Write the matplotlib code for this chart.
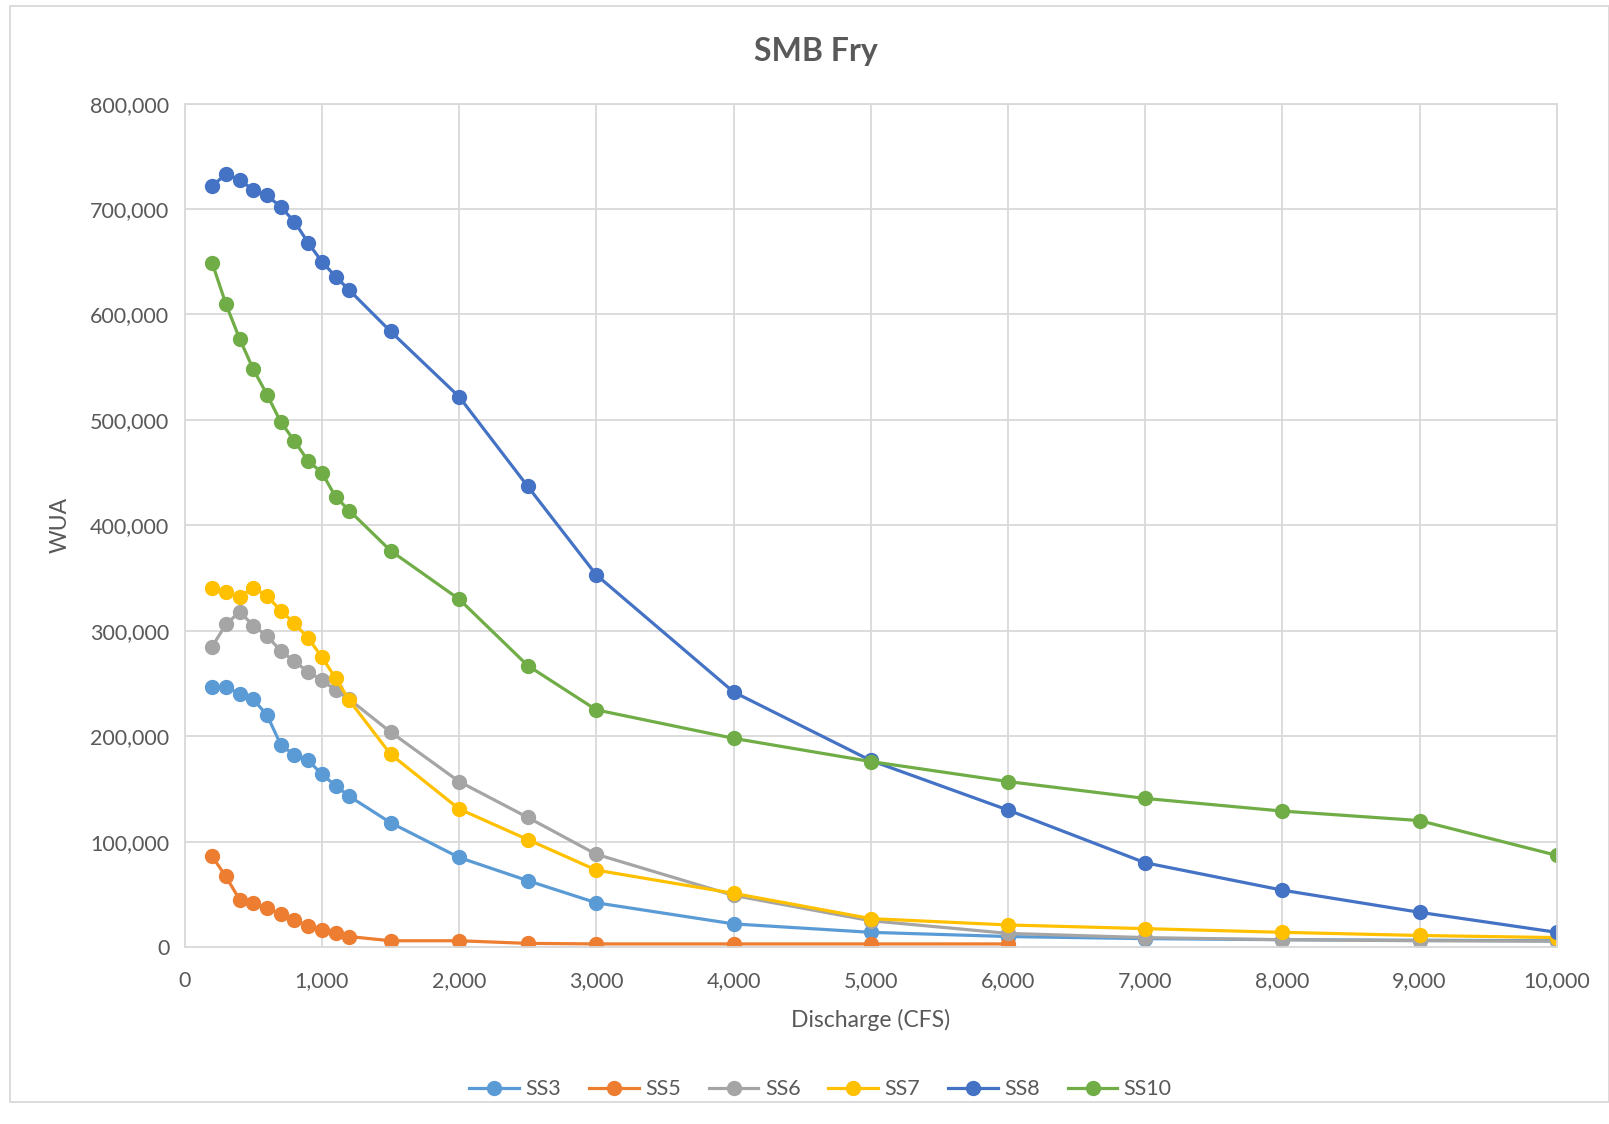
import matplotlib.pyplot as plt
from matplotlib.patches import Rectangle
from matplotlib.ticker import FuncFormatter

# discharge (cfs)
flows = [200, 300, 400, 500, 600, 700, 800, 900, 1000, 1100, 1200,
         1500, 2000, 2500, 3000, 4000, 5000, 6000, 7000, 8000, 9000, 10000]

ss3 = [247000, 247000, 240000, 235000, 220000, 192000, 182000, 177000, 164000, 153000, 143000,
       118000, 85000, 63000, 42000, 22000, 14000, 10000, 8000, 7000, 6500, 6000]
ss5 = [86000, 67000, 45000, 42000, 37000, 31000, 26000, 20000, 16000, 13000, 10000,
       6000, 6000, 3500, 3000, 3000, 3000, 3000]
ss6 = [285000, 306000, 318000, 305000, 295000, 281000, 271000, 261000, 253000, 244000, 235000,
       204000, 157000, 123000, 88000, 49000, 25000, 13000, 9000, 7000, 6000, 5500]
ss7 = [341000, 337000, 332000, 341000, 333000, 319000, 307000, 293000, 275000, 255000, 234000,
       183000, 131000, 102000, 73000, 51000, 27000, 21000, 17500, 14000, 11000, 9000]
ss8 = [722000, 733000, 728000, 718000, 713000, 702000, 688000, 668000, 650000, 636000, 623000,
       584000, 522000, 437000, 353000, 242000, 177000, 130000, 80000, 54000, 33000, 14000]
ss10 = [649000, 610000, 577000, 548000, 524000, 498000, 480000, 461000, 450000, 427000, 414000,
        376000, 330000, 267000, 225000, 198000, 176000, 157000, 141000, 129000, 120000, 87000]

series = [("SS3", ss3, "#5B9BD5"), ("SS5", ss5, "#ED7D31"), ("SS6", ss6, "#A5A5A5"),
          ("SS7", ss7, "#FFC000"), ("SS8", ss8, "#4472C4"), ("SS10", ss10, "#70AD47")]

plt.rcParams['font.family'] = ['Lato', 'DejaVu Sans']
txt = '#595959'

fig = plt.figure(figsize=(16.09, 11.24), dpi=100)
ax = fig.add_axes([0.1148, 0.1574, 0.8527, 0.7504])

for name, vals, col in series:
    ax.plot(flows[:len(vals)], vals, color=col, lw=2.3, marker='o', ms=10, label=name)

ax.set_xlim(0, 10000)
ax.set_ylim(0, 800000)
ax.set_xticks(range(0, 10001, 1000))
ax.set_yticks(range(0, 800001, 100000))
fmt = FuncFormatter(lambda v, p: f"{int(v):,}")
ax.xaxis.set_major_formatter(fmt)
ax.yaxis.set_major_formatter(fmt)
ax.tick_params(length=0, labelsize=15.5, colors=txt)
ax.tick_params(axis='x', pad=17)
ax.tick_params(axis='y', pad=11)
ax.grid(True, color='#d9d9d9', lw=1.3)
ax.set_axisbelow(True)
for s in ax.spines.values():
    s.set_color('#d9d9d9')
    s.set_linewidth(1.3)

fig.text(0.507, 0.954, "SMB Fry", fontsize=23, fontweight='bold', color=txt,
         ha='center', va='center')
ax.set_xlabel("Discharge (CFS)", fontsize=16.5, color=txt, labelpad=13)
ax.set_ylabel("WUA", fontsize=16.5, color=txt, labelpad=14)

fig.legend(loc='center', bbox_to_anchor=(0.51, 0.031), ncol=6, frameon=False,
           fontsize=15.5, labelcolor=txt, handlelength=2.3, columnspacing=1.3, handletextpad=0.3)

fig.patches.append(Rectangle((0.006, 0.02), 0.994, 0.975, transform=fig.transFigure,
                             fill=False, edgecolor='#d9d9d9', lw=1.3))

fig.savefig("out.png", dpi=100)
